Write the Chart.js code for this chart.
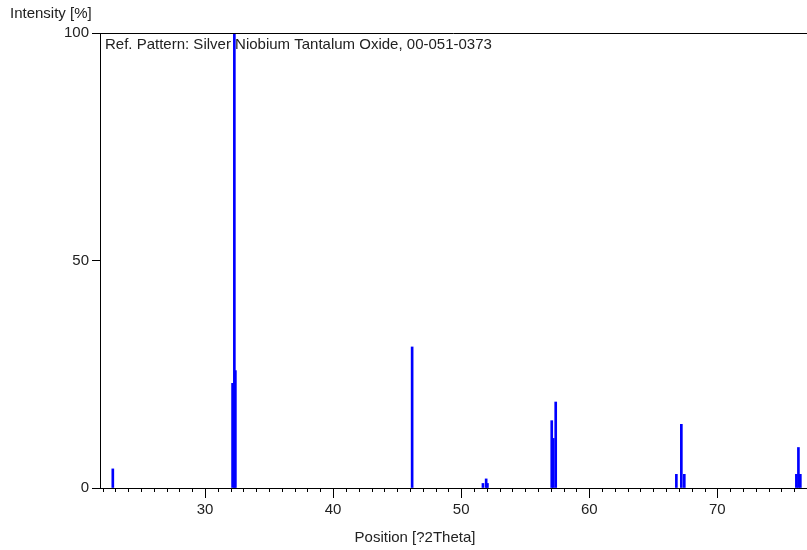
<!DOCTYPE html>
<html>
<head>
<meta charset="utf-8">
<script src="https://cdn.jsdelivr.net/npm/chart.js@4.4.1/dist/chart.umd.min.js"></script>
<style>
  html, body { margin: 0; padding: 0; background: #fff; }
  #wrap { width: 807px; height: 550px; }
</style>
</head>
<body>
<div id="wrap"><canvas id="xrdChart" width="807" height="550"></canvas></div>
<script>
// Reference pattern peaks (position in 2Theta, relative intensity %)
const positions = [22.8, 32.15, 32.29, 32.37, 46.17, 51.7, 51.95, 52.05, 57.07, 57.19, 57.38, 66.8, 67.19, 67.42, 76.17, 76.33, 76.48];
const intensities = [4.2, 23, 100, 25.8, 31, 1, 2, 1, 14.8, 10.9, 18.9, 3, 14, 3, 3, 8.9, 3];
const yTicks = [0, 50, 100];
const xMajorTicks = [30, 40, 50, 60, 70];

const FONT = '"Liberation Sans", Arial, sans-serif';

// Frame top line, minor x ticks and the text labels
const decorPlugin = {
    id: 'decor',
    afterDraw(chart) {
        const ctx = chart.ctx;
        const area = chart.chartArea;
        const xs = chart.scales.x;
        ctx.save();
        ctx.strokeStyle = '#000';
        ctx.lineWidth = 1;
        ctx.beginPath();
        ctx.moveTo(area.left, area.top + 0.5);
        ctx.lineTo(area.right, area.top + 0.5);
        ctx.stroke();
        // minor ticks every 1 degree
        ctx.beginPath();
        for (let v = Math.ceil(xs.min); v <= xs.max; v++) {
            if (v % 10 === 0) continue;
            const px = Math.round(xs.getPixelForValue(v)) + 0.5;
            ctx.moveTo(px, area.bottom);
            ctx.lineTo(px, area.bottom + 4);
        }
        ctx.stroke();
        ctx.fillStyle = '#222';
        ctx.font = '15px ' + FONT;
        ctx.textBaseline = 'top';
        ctx.textAlign = 'left';
        ctx.fillText('Intensity [%]', 10, 6);
        ctx.fillText('Ref. Pattern: Silver Niobium Tantalum Oxide, 00-051-0373', area.left + 5, area.top + 4);
        ctx.textAlign = 'center';
        ctx.fillText('Position [?2Theta]', 415, 530);
        ctx.restore();
    }
};

new Chart(document.getElementById('xrdChart'), {
    type: 'bar',
    data: {
        datasets: [{
            data: positions.map((p, i) => ({ x: p, y: intensities[i] })),
            backgroundColor: '#0000ff',
            borderWidth: 0,
            barThickness: 2
        }]
    },
    options: {
        responsive: false,
        animation: false,
        layout: { padding: { top: 33, right: 0, left: 0, bottom: 0 } },
        plugins: { legend: { display: false }, tooltip: { enabled: false } },
        scales: {
            x: {
                type: 'linear',
                min: 21.8,
                max: 77,
                offset: false,
                afterFit: s => { s.height = 62; },
                afterBuildTicks: s => { s.ticks = xMajorTicks.map(v => ({ value: v })); },
                border: { display: true, color: '#000', width: 1 },
                grid: { offset: false, drawOnChartArea: false, tickLength: 10, color: '#000' },
                ticks: { color: '#222', font: { family: FONT, size: 15 }, padding: 3, maxRotation: 0 }
            },
            y: {
                min: 0,
                max: 100,
                afterFit: s => { s.width = 100; },
                afterBuildTicks: s => { s.ticks = yTicks.map(v => ({ value: v })); },
                border: { display: true, color: '#000', width: 1 },
                grid: { drawOnChartArea: false, tickLength: 8, color: '#000' },
                ticks: { color: '#222', font: { family: FONT, size: 15 }, padding: 3 }
            }
        }
    },
    plugins: [decorPlugin]
});
</script>
</body>
</html>
